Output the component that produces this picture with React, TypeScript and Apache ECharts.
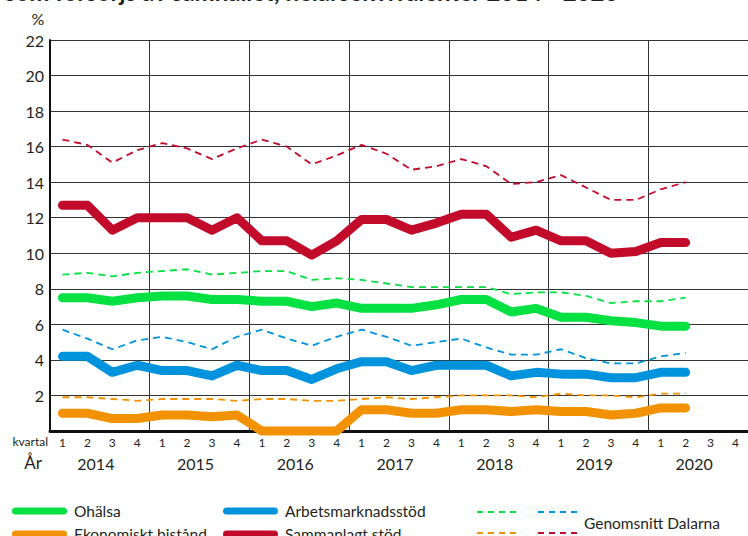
import React, { useEffect, useRef } from "react";
import * as echarts from "echarts";

const quarters = [
  "1","2","3","4","1","2","3","4","1","2","3","4","1","2","3","4",
  "1","2","3","4","1","2","3","4","1","2","3","4",
];
const years = ["2014", "2015", "2016", "2017", "2018", "2019", "2020"];
const yTicks = [2, 4, 6, 8, 10, 12, 14, 16, 18, 20, 22];

const ohalsa = [7.5,7.5,7.3,7.5, 7.6,7.6,7.4,7.4, 7.3,7.3,7.0,7.2, 6.9,6.9,6.9,7.1, 7.4,7.4,6.7,6.9, 6.4,6.4,6.2,6.1, 5.9,5.9];
const arbetsmarknad = [4.2,4.2,3.3,3.7, 3.4,3.4,3.1,3.7, 3.4,3.4,2.9,3.5, 3.9,3.9,3.4,3.7, 3.7,3.7,3.1,3.3, 3.2,3.2,3.0,3.0, 3.3,3.3];
const ekonomiskt = [1.0,1.0,0.7,0.7, 0.9,0.9,0.8,0.9, 0,0,0,0, 1.2,1.2,1.0,1.0, 1.2,1.2,1.1,1.2, 1.1,1.1,0.9,1.0, 1.3,1.3];
const sammanlagt = [12.7,12.7,11.3,12.0, 12.0,12.0,11.3,12.0, 10.7,10.7,9.9,10.7, 11.9,11.9,11.3,11.7, 12.2,12.2,10.9,11.3, 10.7,10.7,10.0,10.1, 10.6,10.6];

const ohalsaDal = [8.8,8.9,8.7,8.9, 9.0,9.1,8.8,8.9, 9.0,9.0,8.5,8.6, 8.5,8.3,8.1,8.1, 8.1,8.1,7.7,7.8, 7.8,7.6,7.2,7.3, 7.3,7.5];
const arbetsDal = [5.7,5.2,4.6,5.1, 5.3,5.0,4.6,5.3, 5.7,5.2,4.8,5.3, 5.7,5.3,4.8,5.0, 5.2,4.7,4.3,4.3, 4.6,4.1,3.8,3.8, 4.2,4.4];
const ekonomDal = [1.9,1.9,1.8,1.7, 1.8,1.8,1.8,1.7, 1.8,1.8,1.7,1.7, 1.8,1.9,1.8,1.9, 2.0,2.0,2.0,1.9, 2.1,2.0,2.0,1.9, 2.1,2.1];
const sammanDal = [16.4,16.1,15.1,15.8, 16.2,15.9,15.3,15.9, 16.4,16.0,15.0,15.5, 16.1,15.6,14.7,14.9, 15.3,14.9,13.9,14.0, 14.4,13.7,13.0,13.0, 13.6,14.0];

const GREEN = "#05e043";
const BLUE = "#0093dd";
const ORANGE = "#f39200";
const RED = "#c20b2a";
const FONT = "Lato";
const TXT = "#231f20";

const pill = "path://M3.5,0 L51.5,0 A3.5,3.5 0 0 1 51.5,7 L3.5,7 A3.5,3.5 0 0 1 3.5,0 Z";

function solid(name: string, data: number[], color: string) {
  return {
    name,
    type: "line",
    data,
    color,
    symbol: "none",
    clip: false,
    z: 5,
    lineStyle: { width: 9, color, cap: "round", join: "round" },
  };
}
function dashed(name: string, data: number[], color: string) {
  return {
    name,
    type: "line",
    data,
    color,
    symbol: "none",
    clip: false,
    z: 3,
    lineStyle: { width: 1.8, color, type: [7, 5] },
  };
}

function legendFor(name: string, left: number, top: number) {
  return {
    data: [{ name, icon: pill }],
    left,
    top,
    padding: 0,
    itemWidth: 55,
    itemHeight: 7,
    selectedMode: false,
    textStyle: { fontFamily: FONT, fontSize: 15.5, color: TXT, padding: [0, 0, 0, 2] },
  };
}

function dashLine(x1: number, x2: number, y: number, color: string) {
  return {
    type: "line",
    shape: { x1, y1: y, x2, y2: y },
    style: { stroke: color, lineWidth: 2, lineDash: [6, 5] },
  };
}

export default function App() {
  const ref = useRef<HTMLDivElement>(null);
  useEffect(() => {
    if (!ref.current) return;
    const chart = echarts.init(ref.current, null, { renderer: "svg" });
    chart.setOption({
      animation: false,
      backgroundColor: "#ffffff",
      grid: { left: 50, top: 40, width: 702, bottom: 105, containLabel: false },
      xAxis: [
        {
          type: "category",
          data: quarters,
          boundaryGap: true,
          axisLine: { show: true, lineStyle: { color: "#111", width: 3 } },
          axisTick: { show: false },
          axisLabel: {
            interval: 0,
            margin: 5,
            fontFamily: FONT,
            fontSize: 12,
            color: TXT,
          },
          splitLine: {
            show: true,
            interval: (i: number) => i % 4 === 0 && i > 0,
            lineStyle: { color: "#333", width: 1 },
          },
        },
        {
          type: "category",
          data: years,
          position: "bottom",
          boundaryGap: true,
          axisLine: { show: false },
          axisTick: { show: false },
          splitLine: { show: false },
          axisLabel: {
            interval: 0,
            margin: 24,
            fontFamily: FONT,
            fontSize: 16,
            color: TXT,
            padding: [0, 8, 0, 0],
          },
        },
      ],
      yAxis: {
        type: "value",
        min: 0,
        max: 22,
        interval: 2,
        axisLine: { show: true, lineStyle: { color: "#111", width: 2 } },
        axisTick: { show: false },
        axisLabel: {
          margin: 6,
          fontFamily: FONT,
          fontSize: 16,
          color: TXT,
          formatter: (v: number) => (yTicks.indexOf(v) >= 0 ? String(v) : ""),
        },
        splitLine: { show: true, lineStyle: { color: "#333", width: 1 } },
      },
      legend: [
        legendFor("Ohälsa", 12, 503),
        legendFor("Arbetsmarknadsstöd", 223, 503),
        legendFor("Ekonomiskt bistånd", 12, 526),
        legendFor("Sammanlagt stöd", 223, 526),
      ],
      graphic: [
        {
          type: "text",
          left: 5,
          top: -21,
          style: {
            text: "som försörjs av samhället, helårsekvivalenter 2014 - 2020",
            fontFamily: FONT,
            fontWeight: "bold",
            fontSize: 24,
            fill: TXT,
          },
        },
        {
          type: "text",
          x: 38,
          y: 18,
          style: { text: "%", fontFamily: FONT, fontSize: 16, fill: TXT, align: "center", verticalAlign: "middle" },
        },
        {
          type: "text",
          x: 48,
          y: 441,
          style: { text: "kvartal", fontFamily: FONT, fontSize: 12, fill: TXT, align: "right", verticalAlign: "middle" },
        },
        {
          type: "text",
          x: 42,
          y: 462,
          style: { text: "År", fontFamily: FONT, fontSize: 17, fill: TXT, align: "right", verticalAlign: "middle" },
        },
        dashLine(477, 519, 512, GREEN),
        dashLine(538, 579, 512, BLUE),
        dashLine(477, 519, 533, ORANGE),
        dashLine(538, 579, 533, RED),
        {
          type: "text",
          x: 584,
          y: 523,
          style: { text: "Genomsnitt Dalarna", fontFamily: FONT, fontSize: 15.5, fill: TXT, verticalAlign: "middle" },
        },
      ],
      series: [
        dashed("Ohälsa, genomsnitt Dalarna", ohalsaDal, GREEN),
        dashed("Arbetsmarknadsstöd, genomsnitt Dalarna", arbetsDal, BLUE),
        dashed("Ekonomiskt bistånd, genomsnitt Dalarna", ekonomDal, ORANGE),
        dashed("Sammanlagt stöd, genomsnitt Dalarna", sammanDal, RED),
        solid("Ohälsa", ohalsa, GREEN),
        solid("Arbetsmarknadsstöd", arbetsmarknad, BLUE),
        solid("Ekonomiskt bistånd", ekonomiskt, ORANGE),
        solid("Sammanlagt stöd", sammanlagt, RED),
      ],
    });
    return () => chart.dispose();
  }, []);
  return <div ref={ref} style={{ position: "fixed", left: 0, top: 0, width: 748, height: 536 }} />;
}
